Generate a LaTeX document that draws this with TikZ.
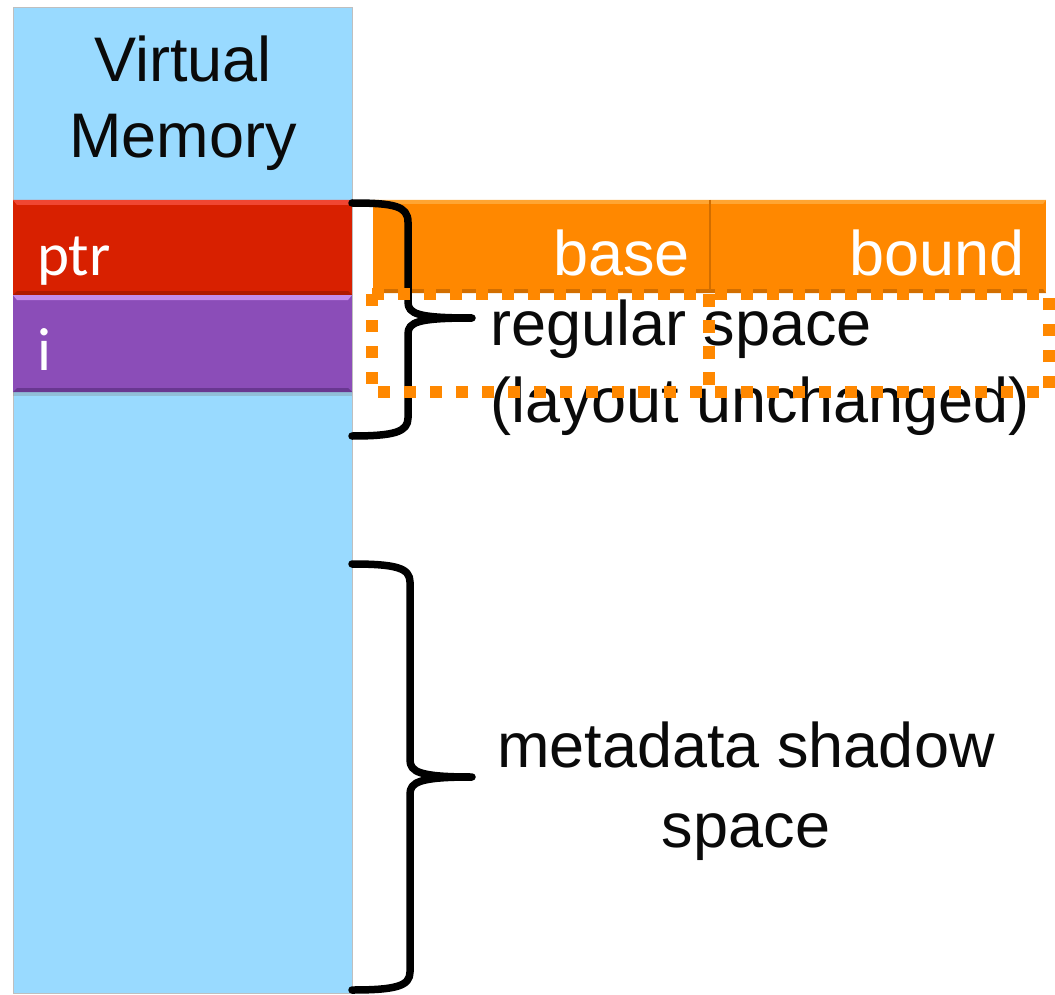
\documentclass[tikz,border=0pt]{standalone}
\usepackage{fontspec}
\setmainfont{Liberation Sans}
\newfontfamily\calibfont{Carlito}
\usetikzlibrary{shadows}
\definecolor{memblue}{RGB}{153,218,255}
\definecolor{ptrred}{RGB}{216,32,0}
\definecolor{ptrredhi}{RGB}{240,70,50}
\definecolor{ptrredlo}{RGB}{175,25,0}
\definecolor{ipurple}{RGB}{139,77,184}
\definecolor{ipurplehi}{RGB}{195,140,235}
\definecolor{ipurplelo}{RGB}{105,55,145}
\definecolor{metaorange}{RGB}{255,136,0}
\definecolor{metaorangehi}{RGB}{255,165,50}
\definecolor{metaorangelo}{RGB}{210,110,0}
\definecolor{inkblack}{RGB}{10,10,10}
\begin{document}
\begin{tikzpicture}[x=1pt,y=-1pt,
  lbl/.style={inner sep=0pt, text=inkblack, font=\fontsize{63}{76}\selectfont},
  celltext/.style={inner sep=0pt, text=white, font=\calibfont\fontsize{61}{72}\selectfont},
  metatext/.style={inner sep=0pt, text=white, font=\fontsize{63}{76}\selectfont},
  bracepath/.style={draw=black, line width=7.5pt, line cap=round, line join=round},
  dotbox/.style={draw=metaorange, line width=12pt, dash pattern=on 12pt off 14pt},
]
\useasboundingbox (0,0) rectangle (1055,995);

% virtual memory column
\fill[memblue, draw=black!25, line width=0.8pt] (13,7) rectangle (352,993);
\node[lbl, anchor=base] (vmtop) at (183,82) {Virtual};
\node[lbl, anchor=base] (vmbot) at (183,158) {Memory};

% ptr cell
\fill[ptrred, drop shadow={opacity=0.25, shadow xshift=0pt, shadow yshift=-3pt}] (13,200) rectangle (352,295);
\fill[ptrredhi] (13,200) -- (352,200) -- (348,205) -- (17,205) -- cycle;
\fill[ptrredlo] (13,295) -- (352,295) -- (348,291) -- (17,291) -- cycle;
\node[celltext, anchor=base west] (ptrlbl) at (37,276) {ptr};

% i cell
\fill[ipurple, drop shadow={opacity=0.3, shadow xshift=0pt, shadow yshift=-4pt}] (13,295) rectangle (352,392);
\fill[ipurplehi] (13,295) -- (352,295) -- (348,300) -- (17,300) -- cycle;
\fill[ipurplelo] (13,392) -- (352,392) -- (348,388) -- (17,388) -- cycle;
\node[celltext, anchor=base west] (ilbl) at (37,370) {i};

% base / bound metadata cells
\fill[metaorange] (373,200) rectangle (1046,293);
\fill[metaorangehi] (373,200) -- (1046,200) -- (1043,204) -- (376,204) -- cycle;
\fill[metaorangelo] (373,293) -- (1046,293) -- (1043,289) -- (376,289) -- cycle;
\draw[metaorangelo, line width=1.2pt] (710,200) -- (710,293);
\node[metatext, anchor=base east] (baselbl) at (690,275) {base};
\node[metatext, anchor=base east] (boundlbl) at (1025,275) {bound};

% brace for the regular space
\draw[bracepath] (352,203) .. controls (394,203) and (408,206) .. (408,222)
  -- (408,302) .. controls (408,314) and (418,318) .. (472,318)
  .. controls (418,318) and (408,322) .. (408,334)
  -- (408,418) .. controls (408,432) and (394,436) .. (352,436);

% brace for the shadow space
\draw[bracepath] (352,564) .. controls (396,564) and (410,568) .. (410,582)
  -- (410,760) .. controls (410,772) and (420,777) .. (472,777)
  .. controls (420,777) and (410,782) .. (410,794)
  -- (410,972) .. controls (410,986) and (396,990) .. (352,990);

% labels
\node[lbl, anchor=base west] (regtop) at (490,345) {regular space};
\node[lbl, anchor=base west] (regbot) at (490,422) {(layout unchanged)};
\node[lbl, anchor=base] (metatop) at (746,767) {metadata shadow};
\node[lbl, anchor=base] (metabot) at (746,847) {space};

% dotted outlines of the shadow copies
\draw[dotbox] (372,294) rectangle (709,392);
\draw[dotbox] (709,294) rectangle (1049,392);
\end{tikzpicture}
\end{document}
